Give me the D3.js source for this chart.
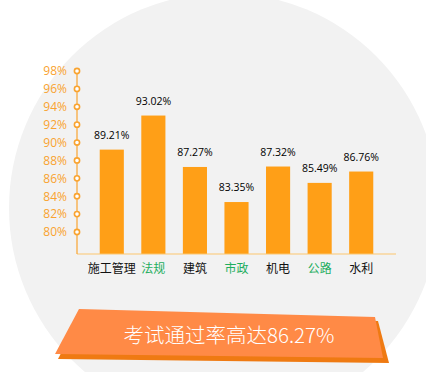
<!DOCTYPE html>
<html>
<head>
<meta charset="utf-8">
<script src="https://cdn.jsdelivr.net/npm/d3@7"></script>
<style>
  html, body { margin: 0; padding: 0; background: #fff; }
  svg { display: block; }
</style>
</head>
<body>
<div id="vis"></div>
<script>
// ----------DATA----------------
const categories = ["施工管理", "法规", "建筑", "市政", "机电", "公路", "水利"];
const passRates = [89.21, 93.02, 87.27, 83.35, 87.32, 85.49, 86.76];
const highlighted = [false, true, false, true, false, true, false];
const tickValues = [80, 82, 84, 86, 88, 90, 92, 94, 96, 98];
const bannerText = "考试通过率高达86.27%";

// ----------PAGE SETUP----------------
const FRAME_WIDTH = 426;
const FRAME_HEIGHT = 372;
const AXIS_X = 77;
const BASE_Y = 254;

const BAR_COLOR = "#ff9f17";
const AXIS_COLOR = "#f9a32f";
const GREEN = "#1fae5f";

const FRAME = d3.select("#vis")
  .append("svg")
  .attr("width", FRAME_WIDTH)
  .attr("height", FRAME_HEIGHT);

// gray backdrop circle
FRAME.append("circle")
  .attr("cx", 224)
  .attr("cy", 208)
  .attr("r", 215)
  .attr("fill", "#f2f2f2");

// ----------SCALES----------------
const y = d3.scaleLinear()
  .domain([80, 98])
  .range([232, 71]);

const x = d3.scaleBand()
  .domain(categories)
  .range([91, 382])
  .paddingInner(0.42)
  .paddingOuter(0.21);

// ----------BARS----------------
FRAME.append("g")
  .selectAll("rect")
  .data(passRates)
  .enter()
  .append("rect")
    .attr("x", (d, i) => x(categories[i]))
    .attr("y", d => y(d))
    .attr("width", x.bandwidth())
    .attr("height", d => BASE_Y - y(d))
    .attr("fill", BAR_COLOR);

FRAME.append("g")
  .selectAll("text")
  .data(passRates)
  .enter()
  .append("text")
    .attr("x", (d, i) => x(categories[i]) + x.bandwidth() / 2)
    .attr("y", d => y(d) - 11)
    .attr("text-anchor", "middle")
    .attr("font-family", "'Open Sans', sans-serif")
    .attr("font-size", 10.5)
    .attr("fill", "#000")
    .text(d => d.toFixed(2) + "%");

// baseline
FRAME.append("line")
  .attr("x1", AXIS_X)
  .attr("x2", 396)
  .attr("y1", BASE_Y)
  .attr("y2", BASE_Y)
  .attr("stroke", "#fcc66f")
  .attr("stroke-width", 1.2);

// category labels
FRAME.append("g")
  .selectAll("text")
  .data(categories)
  .enter()
  .append("text")
    .attr("x", d => x(d) + x.bandwidth() / 2)
    .attr("y", 273)
    .attr("text-anchor", "middle")
    .attr("font-family", "'Noto Sans CJK SC', sans-serif")
    .attr("font-size", 12)
    .attr("fill", (d, i) => highlighted[i] ? GREEN : "#111")
    .text(d => d);

// ----------Y AXIS----------------
FRAME.append("line")
  .attr("x1", AXIS_X)
  .attr("x2", AXIS_X)
  .attr("y1", y(98))
  .attr("y2", BASE_Y)
  .attr("stroke", AXIS_COLOR)
  .attr("stroke-width", 1.2);

const ticks = FRAME.append("g")
  .selectAll("g")
  .data(tickValues)
  .enter()
  .append("g")
    .attr("transform", d => `translate(${AXIS_X},${y(d)})`);

ticks.append("circle")
  .attr("r", 2.6)
  .attr("fill", "#fff")
  .attr("stroke", AXIS_COLOR)
  .attr("stroke-width", 1.6);

ticks.append("text")
  .attr("x", -10)
  .attr("dy", "0.36em")
  .attr("text-anchor", "end")
  .attr("font-family", "'Open Sans', sans-serif")
  .attr("font-size", 12)
  .attr("fill", AXIS_COLOR)
  .text(d => d + "%");

// ----------BANNER----------------
const shadowPts = [[82, 313], [378, 321], [389, 363], [58, 359]];
const bannerPts = [[79, 309], [375, 317], [383, 358], [55, 354]];

FRAME.append("polygon")
  .attr("points", shadowPts.map(p => p.join(",")).join(" "))
  .attr("fill", "#ef7a12");

FRAME.append("polygon")
  .attr("points", bannerPts.map(p => p.join(",")).join(" "))
  .attr("fill", "#ff8a46");

FRAME.append("text")
  .attr("x", 229)
  .attr("y", 343)
  .attr("text-anchor", "middle")
  .attr("font-family", "'Noto Sans CJK SC', sans-serif")
  .attr("font-weight", 300)
  .attr("font-size", 20.5)
  .attr("fill", "#fff")
  .text(bannerText);
</script>
</body>
</html>
